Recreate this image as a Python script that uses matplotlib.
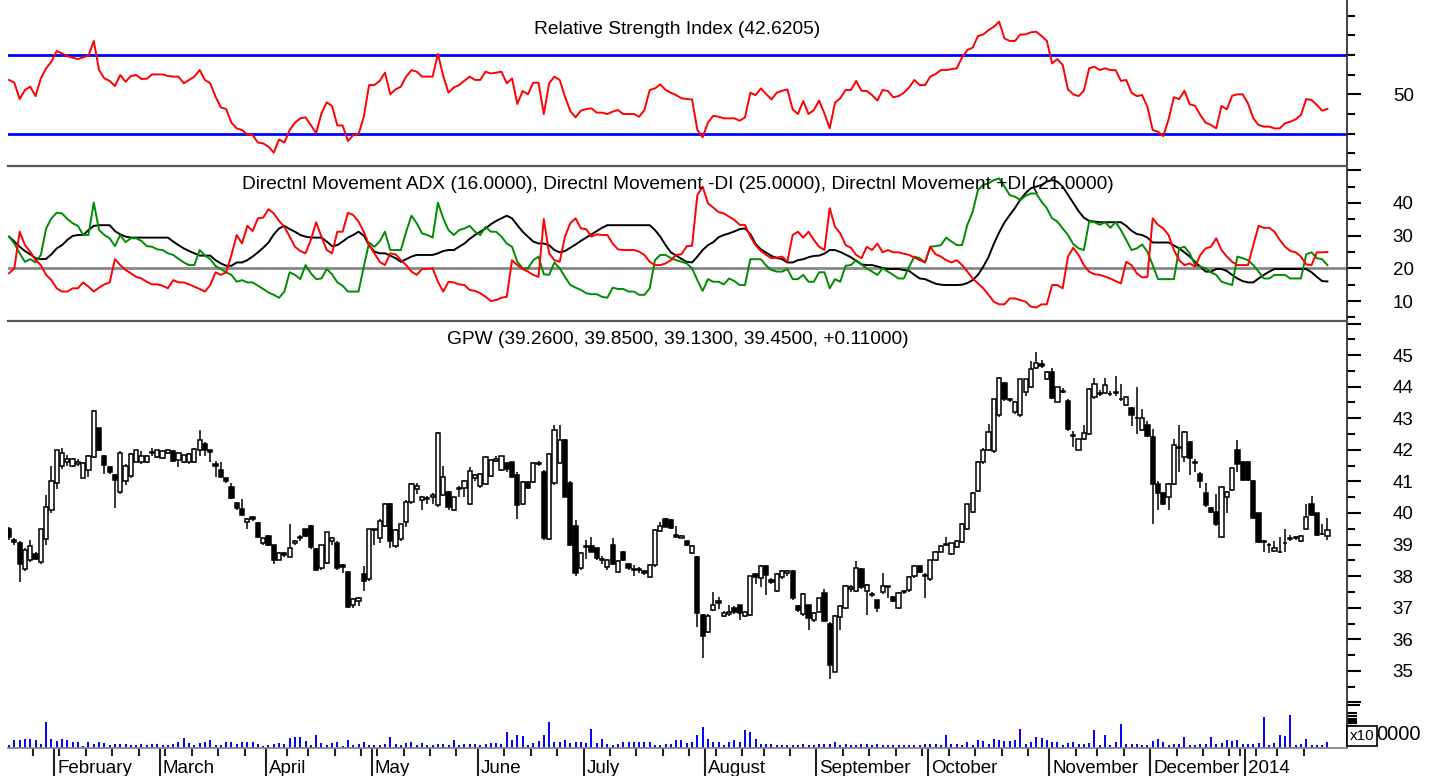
import numpy as np
import pandas as pd
import matplotlib
matplotlib.use("Agg")
import matplotlib.pyplot as plt
from matplotlib.transforms import blended_transform_factory

plt.rcParams['font.family'] = ['Liberation Sans', 'DejaVu Sans']

# ---------------- data ----------------
opens = [
    39.49, 39.15, 39.04, 38.22, 38.50, 38.70, 38.46, 39.17, 40.10, 40.96,
    41.49, 41.60, 41.50, 41.55, 41.12, 41.36, 41.78, 42.68, 41.80, 41.46,
    41.20, 40.65, 41.00, 41.17, 41.62, 41.62, 41.60, 41.90, 41.76, 41.73,
    41.90, 41.97, 41.68, 41.60, 41.60, 41.60, 42.00, 42.20, 41.99, 41.55,
    41.36, 41.10, 40.83, 40.33, 40.12, 39.70, 39.88, 39.67, 39.04, 39.28,
    38.99, 38.51, 38.72, 38.62, 39.05, 39.20, 39.48, 39.60, 38.86, 38.25,
    38.41, 39.10, 39.04, 38.35, 38.12, 37.10, 37.20, 38.07, 37.90, 39.45,
    39.20, 39.59, 40.30, 38.95, 39.17, 39.72, 40.36, 40.75, 40.40, 40.45,
    40.50, 40.25, 40.57, 40.65, 40.10, 40.75, 40.78, 40.30, 41.10, 40.85,
    40.92, 41.18, 41.65, 41.36, 41.57, 41.60, 41.20, 40.30, 40.99, 40.99,
    41.55, 41.30, 39.17, 40.94, 41.57, 42.31, 40.94, 39.59, 38.25, 38.95,
    38.95, 38.88, 38.55, 38.30, 38.99, 38.14, 38.77, 38.40, 38.22, 38.20,
    38.17, 37.98, 38.35, 39.42, 39.80, 39.77, 39.30, 39.22, 39.10, 38.74,
    38.62, 36.77, 36.24, 36.93, 37.20, 36.74, 36.80, 37.00, 37.09, 36.75,
    36.77, 38.06, 37.93, 38.32, 37.88, 37.54, 37.98, 38.10, 38.17, 37.06,
    36.80, 37.08, 36.61, 36.88, 37.46, 36.50, 34.98, 36.72, 36.98, 37.58,
    37.54, 38.22, 37.54, 37.45, 37.24, 37.51, 37.67, 37.35, 36.98, 37.50,
    37.56, 38.00, 38.32, 38.05, 37.90, 38.51, 38.77, 39.00, 38.70, 38.93,
    39.07, 39.48, 40.04, 40.71, 41.60, 41.99, 41.97, 43.10, 44.12, 43.60,
    43.20, 43.10, 43.84, 44.00, 44.60, 44.72, 44.23, 44.47, 43.52, 43.84,
    43.55, 42.47, 42.00, 42.33, 42.50, 43.68, 43.80, 43.80, 43.78, 43.80,
    43.62, 43.42, 43.34, 43.02, 42.62, 42.80, 42.41, 40.92, 40.62, 40.52,
    40.92, 42.08, 41.76, 42.26, 41.60, 41.23, 40.62, 40.15, 40.04, 39.23,
    40.52, 40.73, 41.99, 41.62, 41.62, 41.02, 39.99, 39.10, 39.00, 38.80,
    38.76, 39.05, 39.17, 39.25, 39.10, 39.48, 40.27, 39.99, 39.32, 39.26,
]
highs = [
    39.55, 39.20, 39.10, 38.90, 39.14, 38.75, 39.50, 40.57, 41.50, 42.00,
    42.05, 41.85, 41.75, 41.70, 41.62, 41.85, 43.25, 42.70, 41.85, 41.50,
    41.25, 41.95, 41.55, 41.90, 42.00, 41.95, 41.85, 42.05, 42.00, 41.98,
    42.02, 41.99, 41.92, 41.85, 41.90, 42.05, 42.63, 42.25, 42.00, 41.65,
    41.60, 41.12, 40.95, 40.35, 40.45, 39.85, 39.92, 39.72, 39.22, 39.30,
    39.00, 38.75, 38.78, 39.64, 39.15, 39.30, 39.50, 39.62, 38.90, 39.00,
    39.40, 39.25, 39.10, 38.40, 38.15, 37.30, 37.35, 38.32, 39.50, 39.50,
    39.80, 40.32, 40.32, 39.50, 39.66, 40.40, 40.95, 40.95, 40.55, 40.55,
    40.62, 42.55, 41.50, 40.70, 40.52, 40.85, 41.05, 41.45, 41.25, 41.28,
    41.80, 41.70, 41.80, 41.82, 41.60, 41.62, 41.30, 41.00, 41.00, 41.60,
    41.65, 41.35, 41.90, 42.78, 42.78, 42.35, 41.00, 39.78, 38.75, 39.15,
    39.25, 38.90, 38.65, 38.55, 39.20, 38.50, 38.80, 38.42, 38.35, 38.28,
    38.20, 38.38, 39.48, 39.72, 39.85, 39.80, 39.60, 39.30, 39.12, 39.00,
    38.65, 36.80, 36.80, 37.50, 37.35, 36.90, 37.10, 37.05, 37.10, 36.90,
    38.02, 38.10, 38.35, 38.35, 37.95, 38.10, 38.20, 38.20, 38.20, 37.10,
    37.46, 37.10, 36.85, 37.32, 37.60, 36.55, 36.78, 37.08, 37.72, 37.72,
    38.48, 38.25, 37.75, 37.50, 37.26, 38.10, 37.70, 37.38, 37.50, 37.55,
    38.00, 38.34, 38.34, 38.10, 38.52, 38.80, 38.98, 39.25, 39.06, 39.15,
    39.68, 40.30, 40.65, 41.65, 42.05, 42.82, 43.62, 44.30, 44.15, 43.65,
    43.55, 44.25, 44.25, 44.80, 45.10, 44.85, 44.50, 44.60, 44.00, 43.95,
    43.60, 42.60, 42.35, 42.80, 43.96, 44.27, 43.90, 44.27, 43.85, 44.35,
    44.10, 43.70, 43.36, 43.98, 43.30, 42.90, 42.65, 41.00, 40.65, 40.95,
    42.35, 42.78, 42.60, 42.28, 41.70, 41.30, 40.95, 40.20, 40.60, 40.84,
    40.70, 41.47, 42.30, 41.65, 41.65, 41.05, 40.00, 39.15, 39.05, 39.10,
    39.25, 39.50, 39.30, 39.27, 39.30, 40.30, 40.55, 40.00, 39.65, 39.85,
]
lows = [
    39.15, 39.00, 37.80, 38.15, 38.45, 38.50, 38.40, 39.00, 40.00, 40.75,
    41.40, 41.50, 41.45, 41.50, 41.10, 41.15, 41.75, 41.95, 41.25, 41.25,
    40.15, 40.60, 40.90, 41.10, 41.60, 41.55, 41.58, 41.80, 41.74, 41.70,
    41.88, 41.60, 41.46, 41.58, 41.55, 41.58, 41.80, 41.80, 41.60, 41.15,
    41.10, 40.95, 40.45, 40.10, 39.90, 39.50, 39.75, 39.20, 39.00, 38.95,
    38.40, 38.50, 38.60, 38.60, 39.00, 39.10, 39.25, 38.85, 38.15, 38.20,
    38.38, 39.00, 38.20, 38.10, 37.00, 37.00, 37.05, 37.54, 37.85, 39.00,
    39.05, 39.55, 38.90, 38.90, 39.10, 39.55, 40.30, 40.60, 40.10, 40.30,
    40.30, 40.20, 40.55, 40.10, 40.05, 40.50, 40.50, 40.25, 41.00, 40.80,
    40.90, 41.15, 41.60, 41.34, 41.30, 41.10, 39.80, 40.25, 40.75, 40.95,
    41.50, 39.15, 39.15, 40.90, 41.55, 40.50, 38.95, 38.00, 38.20, 38.55,
    38.75, 38.50, 38.40, 38.20, 38.35, 38.10, 38.48, 38.20, 38.00, 38.10,
    38.05, 37.95, 38.30, 39.40, 39.55, 39.50, 39.20, 39.20, 38.95, 38.70,
    36.40, 35.40, 36.20, 36.90, 36.95, 36.70, 36.75, 36.80, 36.60, 36.70,
    36.75, 37.75, 37.65, 37.40, 37.75, 37.50, 37.90, 38.00, 37.25, 36.85,
    36.75, 36.30, 36.55, 36.85, 36.55, 34.74, 34.95, 36.30, 36.95, 37.50,
    37.50, 37.60, 36.78, 37.35, 36.88, 37.45, 37.30, 37.18, 36.95, 37.45,
    37.50, 37.95, 38.10, 37.30, 37.85, 38.48, 38.75, 38.95, 38.68, 38.90,
    39.05, 39.45, 40.00, 40.68, 41.55, 41.95, 41.90, 43.05, 43.55, 43.50,
    43.15, 43.05, 43.70, 43.95, 44.55, 44.60, 44.20, 43.60, 43.50, 43.80,
    42.60, 42.10, 41.98, 42.30, 42.48, 43.60, 43.70, 43.78, 43.70, 43.70,
    43.55, 43.40, 42.75, 42.50, 42.60, 42.40, 39.65, 40.10, 40.25, 40.10,
    40.88, 41.30, 41.60, 41.20, 41.30, 40.80, 40.20, 40.00, 39.60, 39.20,
    40.00, 40.70, 41.30, 41.00, 41.00, 39.80, 39.05, 38.78, 38.72, 38.75,
    38.72, 38.78, 39.10, 39.15, 39.08, 39.45, 39.90, 39.28, 39.30, 39.13,
]
closes = [
    39.23, 39.08, 38.40, 38.83, 38.95, 38.55, 39.48, 40.20, 41.02, 41.99,
    41.89, 41.70, 41.70, 41.62, 41.59, 41.80, 43.23, 41.99, 41.52, 41.30,
    41.06, 41.90, 41.50, 41.86, 41.99, 41.80, 41.80, 41.92, 41.99, 41.97,
    42.00, 41.64, 41.90, 41.83, 41.87, 42.04, 42.30, 42.00, 41.94, 41.50,
    41.15, 41.00, 40.46, 40.15, 39.94, 39.80, 39.80, 39.23, 39.20, 38.99,
    38.51, 38.72, 38.68, 38.88, 39.12, 39.25, 39.27, 38.91, 38.20, 38.98,
    39.39, 39.20, 38.25, 38.30, 37.03, 37.27, 37.30, 37.86, 39.49, 39.48,
    39.76, 40.30, 39.12, 39.46, 39.64, 40.36, 40.92, 40.85, 40.50, 40.48,
    40.58, 42.52, 41.13, 40.20, 40.50, 40.80, 41.02, 41.33, 41.20, 41.25,
    41.78, 41.68, 41.72, 41.80, 41.38, 41.15, 40.25, 40.99, 40.78, 41.59,
    41.58, 39.20, 41.87, 42.63, 42.31, 40.52, 38.99, 38.09, 38.72, 38.92,
    38.77, 38.56, 38.52, 38.51, 38.40, 38.48, 38.51, 38.25, 38.20, 38.22,
    38.09, 38.35, 39.46, 39.60, 39.57, 39.52, 39.25, 39.27, 39.00, 38.95,
    36.82, 36.10, 36.74, 37.09, 37.15, 36.84, 36.88, 36.85, 36.82, 36.85,
    38.00, 37.96, 38.32, 38.04, 37.83, 38.07, 38.17, 38.15, 37.30, 36.93,
    37.44, 36.67, 36.82, 37.30, 36.59, 35.19, 36.74, 37.06, 37.69, 37.66,
    38.27, 37.67, 37.71, 37.40, 36.98, 37.69, 37.68, 37.22, 37.48, 37.52,
    37.98, 38.32, 38.12, 38.00, 38.50, 38.77, 38.95, 39.02, 39.04, 39.12,
    39.65, 40.28, 40.62, 41.62, 42.01, 42.57, 43.60, 44.26, 43.60, 43.58,
    43.52, 44.23, 44.23, 44.55, 44.75, 44.65, 44.47, 43.63, 43.99, 43.86,
    42.65, 42.45, 42.33, 42.52, 43.94, 44.10, 43.78, 44.05, 43.76, 43.82,
    43.60, 43.68, 43.10, 43.00, 43.02, 42.43, 40.92, 40.62, 40.28, 40.92,
    42.15, 42.05, 42.57, 41.73, 41.57, 41.02, 40.25, 40.04, 39.65, 40.81,
    40.65, 41.44, 41.55, 41.06, 41.04, 39.83, 39.09, 39.07, 38.99, 38.90,
    38.75, 39.04, 39.20, 39.20, 39.27, 39.88, 39.94, 39.30, 39.34, 39.45,
]
# volume, thousands of shares
volume = [
    200, 590, 590, 690, 690, 590, 330, 1970, 690, 510,
    690, 640, 460, 460, 180, 430, 330, 460, 380, 260,
    330, 330, 330, 200, 260, 330, 260, 330, 330, 260,
    200, 330, 460, 770, 380, 260, 380, 460, 590, 260,
    200, 460, 430, 330, 460, 460, 460, 330, 180, 260,
    330, 380, 330, 770, 850, 850, 510, 260, 1020, 380,
    200, 380, 460, 130, 640, 200, 330, 460, 260, 260,
    260, 330, 850, 330, 260, 380, 460, 260, 380, 260,
    260, 310, 330, 260, 640, 260, 330, 330, 330, 200,
    330, 380, 380, 330, 1230, 640, 970, 900, 260, 380,
    510, 1020, 1970, 460, 460, 590, 380, 460, 460, 380,
    1460, 380, 720, 330, 260, 330, 430, 460, 460, 460,
    460, 430, 200, 260, 330, 330, 590, 590, 380, 460,
    970, 1610, 720, 460, 435, 260, 435, 590, 460, 1360,
    1230, 720, 330, 330, 330, 200, 260, 200, 260, 260,
    330, 260, 260, 330, 330, 330, 460, 260, 330, 260,
    260, 330, 330, 200, 330, 200, 260, 260, 260, 260,
    200, 200, 260, 330, 330, 330, 260, 970, 330, 330,
    260, 460, 200, 640, 510, 330, 720, 640, 510, 510,
    590, 1460, 330, 460, 850, 770, 590, 460, 460, 200,
    380, 460, 330, 330, 380, 1360, 200, 970, 200, 460,
    1840, 330, 330, 330, 200, 200, 510, 720, 460, 200,
    330, 330, 850, 260, 200, 330, 330, 850, 330, 380,
    640, 510, 640, 330, 330, 330, 380, 2360, 200, 380,
    970, 900, 2560, 200, 330, 720, 260, 260, 260, 460,
]
rsi = [
    57.3, 55.9, 47.6, 52.2, 53.9, 49.1, 58.1, 63.2, 66.6, 72.0,
    70.8, 69.4, 68.6, 67.9, 68.8, 69.6, 77.1, 62.3, 58.1, 56.8,
    54.2, 59.8, 56.4, 59.3, 59.8, 57.8, 57.9, 60.1, 60.1, 60.1,
    59.3, 59.0, 59.0, 55.6, 57.3, 59.0, 62.3, 57.3, 55.6, 48.8,
    43.4, 42.5, 35.6, 32.7, 31.9, 29.5, 29.3, 25.5, 25.1, 23.4,
    20.4, 27.1, 25.5, 31.9, 35.6, 37.8, 38.3, 34.4, 30.2, 40.3,
    45.9, 44.1, 34.2, 34.2, 26.3, 29.3, 29.7, 38.6, 54.7, 54.7,
    56.8, 61.0, 50.0, 52.5, 53.9, 59.0, 62.3, 61.5, 59.0, 59.0,
    59.0, 70.5, 59.3, 50.8, 53.5, 54.7, 56.9, 59.0, 57.3, 57.3,
    61.5, 60.6, 61.0, 61.5, 55.6, 58.1, 45.1, 51.7, 50.0, 55.9,
    55.9, 40.0, 55.6, 59.0, 57.3, 48.8, 41.5, 38.3, 41.7, 42.5,
    42.9, 40.7, 40.7, 40.0, 41.2, 42.0, 40.0, 40.0, 40.0, 38.6,
    42.0, 52.2, 53.0, 55.1, 52.2, 50.8, 49.6, 48.0, 47.6, 47.4,
    31.9, 28.2, 35.6, 39.1, 38.6, 37.8, 37.8, 37.8, 36.6, 38.3,
    50.8, 49.6, 53.0, 50.1, 47.4, 50.8, 51.8, 52.5, 42.4, 40.0,
    46.6, 40.0, 42.0, 46.8, 40.3, 32.7, 45.8, 48.0, 52.2, 52.2,
    56.8, 51.8, 51.7, 49.6, 46.8, 52.2, 51.7, 48.5, 49.1, 50.8,
    53.5, 57.3, 54.7, 54.7, 59.0, 60.3, 62.3, 62.3, 62.8, 63.2,
    68.8, 72.5, 73.7, 79.6, 80.4, 82.6, 84.3, 86.9, 78.4, 77.1,
    77.1, 80.4, 80.4, 81.5, 81.8, 79.6, 77.2, 65.7, 67.9, 64.9,
    52.5, 50.0, 49.1, 51.8, 63.2, 64.0, 62.3, 63.2, 62.3, 62.3,
    56.8, 57.3, 50.8, 49.1, 49.6, 43.7, 31.9, 31.0, 28.8, 37.3,
    48.5, 47.6, 51.8, 44.9, 44.2, 39.5, 35.6, 34.4, 32.7, 44.1,
    42.4, 49.3, 50.0, 50.0, 45.4, 37.8, 34.4, 33.6, 33.6, 32.7,
    32.7, 35.3, 36.1, 37.3, 39.5, 47.6, 47.1, 44.6, 41.7, 42.6,
]
minus_di = [
    18.5, 20.0, 31.2, 27.1, 25.1, 22.5, 21.0, 18.0, 16.4, 13.9,
    12.9, 12.9, 13.9, 13.9, 15.7, 14.4, 12.9, 14.1, 15.1, 15.7,
    22.8, 21.0, 19.5, 18.5, 17.4, 16.9, 15.9, 15.1, 15.1, 14.7,
    13.9, 16.4, 15.7, 15.7, 15.1, 14.4, 13.7, 12.9, 14.9, 18.8,
    18.0, 18.8, 24.1, 30.2, 27.6, 33.0, 31.4, 35.3, 35.5, 38.1,
    36.8, 34.5, 32.7, 29.7, 26.6, 25.3, 24.6, 28.7, 34.1, 29.7,
    25.6, 24.6, 31.2, 31.2, 37.0, 36.3, 34.3, 31.2, 27.1, 24.6,
    22.0, 21.0, 24.6, 24.3, 22.5, 21.0, 19.0, 18.0, 19.8, 19.8,
    20.0, 15.9, 12.9, 15.9, 15.7, 15.1, 14.9, 13.4, 13.1, 12.4,
    11.3, 10.0, 10.3, 11.0, 11.3, 22.5, 21.0, 19.8, 19.0, 18.0,
    17.4, 35.1, 24.6, 22.5, 22.0, 29.7, 33.8, 35.3, 32.2, 32.0,
    29.7, 30.4, 30.2, 30.2, 27.6, 25.8, 25.6, 25.6, 25.6, 25.1,
    24.1, 22.0, 21.0, 21.0, 21.5, 22.5, 24.1, 24.3, 26.8, 26.9,
    42.4, 45.0, 39.9, 38.6, 37.2, 36.8, 35.8, 34.8, 33.3, 33.3,
    29.7, 27.1, 25.3, 24.1, 23.1, 23.3, 23.6, 22.0, 30.2, 31.2,
    29.4, 31.2, 28.7, 26.6, 25.6, 38.4, 32.7, 30.7, 27.1, 26.3,
    24.1, 23.1, 26.6, 25.6, 27.6, 24.9, 25.6, 24.9, 24.9, 24.5,
    24.1, 23.3, 22.5, 21.8, 26.6, 24.3, 23.6, 22.5, 21.8, 22.5,
    21.0, 19.0, 16.9, 15.4, 13.9, 11.9, 9.8, 9.0, 9.0, 10.8,
    10.8, 10.3, 9.8, 8.3, 8.0, 9.0, 9.0, 14.9, 14.9, 13.9,
    23.6, 26.3, 24.1, 21.0, 19.0, 18.2, 18.0, 17.5, 16.9, 16.1,
    15.4, 22.0, 21.0, 18.5, 17.2, 17.4, 35.3, 33.3, 32.2, 30.2,
    25.6, 22.5, 21.0, 21.5, 20.5, 24.1, 26.1, 26.6, 29.2, 25.6,
    23.6, 22.0, 21.0, 21.0, 21.0, 27.1, 33.0, 32.4, 32.4, 31.2,
    28.7, 26.6, 25.3, 24.9, 23.6, 21.2, 21.0, 24.9, 24.9, 25.0,
]
plus_di = [
    29.7, 27.6, 24.6, 22.0, 22.8, 21.8, 24.1, 32.2, 35.3, 37.0,
    36.8, 35.1, 33.8, 33.0, 30.2, 30.2, 40.1, 31.7, 30.2, 29.2,
    26.8, 30.2, 28.0, 29.2, 29.2, 28.4, 26.8, 26.6, 25.8, 25.6,
    24.6, 24.1, 22.9, 21.8, 21.0, 21.0, 25.6, 23.9, 22.8, 20.7,
    19.8, 18.8, 18.0, 15.9, 16.4, 15.7, 15.7, 14.7, 13.7, 12.6,
    11.9, 11.0, 12.9, 18.8, 18.0, 16.7, 21.0, 18.5, 16.7, 16.9,
    19.8, 18.2, 15.7, 14.7, 12.9, 12.9, 12.9, 20.5, 27.9, 26.6,
    28.2, 31.2, 25.6, 25.6, 25.6, 31.2, 36.1, 33.8, 30.7, 30.2,
    29.4, 40.1, 35.3, 31.7, 30.2, 31.7, 32.2, 33.0, 31.2, 30.2,
    32.7, 31.2, 31.2, 29.7, 27.6, 26.6, 22.0, 20.0, 20.0, 22.5,
    23.6, 18.2, 18.0, 21.8, 20.0, 17.4, 14.9, 14.1, 13.4, 12.4,
    12.1, 12.1, 11.3, 11.0, 14.1, 13.7, 13.7, 12.9, 12.9, 11.9,
    11.9, 13.9, 22.5, 24.1, 24.1, 23.1, 22.5, 22.0, 21.5, 20.0,
    16.4, 13.1, 16.7, 15.9, 15.9, 15.1, 16.9, 16.1, 14.9, 14.9,
    22.8, 22.8, 22.8, 20.8, 19.5, 19.0, 19.0, 19.8, 16.7, 16.7,
    18.0, 15.9, 15.9, 18.8, 18.8, 13.9, 16.7, 15.9, 20.8, 21.0,
    22.5, 21.2, 20.0, 19.0, 18.0, 20.0, 19.0, 18.0, 16.9, 16.9,
    20.5, 23.6, 23.1, 21.8, 26.6, 26.8, 27.1, 29.4, 28.2, 27.1,
    27.1, 33.3, 37.3, 44.0, 45.5, 46.0, 47.0, 47.5, 45.0, 42.4,
    41.9, 40.9, 42.2, 42.9, 42.9, 40.4, 38.4, 35.3, 34.3, 32.2,
    30.2, 27.4, 26.1, 25.6, 34.3, 34.1, 33.3, 34.1, 32.4, 34.1,
    31.7, 28.7, 25.6, 26.1, 27.3, 25.1, 21.0, 16.7, 16.7, 16.7,
    16.7, 26.1, 26.6, 24.6, 21.0, 20.5, 20.0, 18.8, 18.0, 15.9,
    15.4, 14.9, 23.6, 23.1, 22.5, 21.0, 19.0, 16.9, 16.9, 18.0,
    18.0, 18.0, 16.9, 16.9, 16.9, 24.3, 24.9, 23.1, 22.8, 21.0,
]
adx = [
    29.7, 28.2, 26.6, 25.3, 24.3, 23.1, 22.8, 22.9, 24.3, 26.1,
    27.1, 28.7, 29.9, 30.2, 30.2, 31.7, 33.0, 33.2, 33.2, 33.2,
    31.4, 30.4, 29.7, 29.4, 29.4, 29.4, 29.4, 29.4, 29.4, 29.4,
    29.4, 28.2, 27.1, 26.1, 25.3, 24.6, 23.9, 23.9, 23.9, 22.5,
    21.5, 20.8, 20.8, 21.8, 21.8, 22.5, 23.6, 24.9, 26.3, 27.9,
    30.4, 32.2, 33.0, 32.0, 31.2, 30.2, 29.7, 29.4, 29.4, 29.4,
    28.2, 26.8, 27.1, 28.2, 29.4, 30.2, 31.2, 30.0, 27.1, 25.1,
    24.6, 24.6, 23.9, 23.1, 22.0, 22.8, 23.6, 24.1, 24.1, 24.1,
    24.1, 24.6, 25.3, 25.6, 25.6, 26.6, 27.6, 29.0, 30.2, 31.2,
    32.2, 33.5, 34.5, 35.3, 36.1, 35.3, 33.2, 31.2, 29.7, 28.2,
    27.6, 27.6, 27.1, 25.6, 24.9, 25.3, 26.3, 27.3, 28.4, 29.4,
    30.4, 31.4, 32.4, 33.2, 33.2, 33.2, 33.2, 33.2, 33.2, 33.2,
    33.2, 33.2, 31.7, 29.7, 27.1, 24.9, 23.9, 22.9, 22.0, 21.8,
    23.6, 25.6, 27.1, 28.0, 29.5, 30.2, 30.7, 31.3, 32.0, 32.2,
    30.5, 27.5, 25.8, 24.8, 23.8, 23.2, 22.8, 21.8, 21.8, 22.5,
    22.8, 23.4, 23.8, 23.9, 24.5, 25.6, 25.6, 25.0, 24.2, 23.4,
    22.3, 21.2, 21.0, 21.0, 20.6, 20.1, 19.8, 19.8, 19.8, 19.5,
    19.2, 18.0, 16.9, 16.7, 16.0, 15.3, 15.0, 14.9, 14.9, 14.9,
    15.0, 15.5, 16.4, 18.0, 20.5, 23.5, 27.5, 31.0, 34.0, 36.3,
    38.5, 41.0, 43.0, 44.5, 45.0, 45.5, 46.5, 47.0, 46.5, 45.0,
    42.5, 40.0, 37.5, 35.5, 34.5, 34.3, 34.1, 34.1, 34.1, 34.1,
    34.1, 33.0, 31.5, 30.5, 30.2, 29.4, 27.9, 27.9, 27.9, 27.9,
    27.0, 26.1, 24.9, 23.6, 22.0, 20.5, 19.0, 19.0, 19.8, 19.8,
    19.2, 18.0, 16.9, 16.1, 15.7, 15.7, 16.9, 18.0, 19.0, 19.8,
    19.8, 19.8, 19.8, 19.8, 19.8, 19.8, 18.8, 17.4, 16.1, 16.0,
]

month_names = ['February', 'March', 'April', 'May', 'June', 'July', 'August',
               'September', 'October', 'November', 'December', '2014']

# Warsaw exchange closed days, plus one April session missing from the feed
closed_days = ['2013-03-29', '2013-04-01', '2013-04-10', '2013-05-01', '2013-05-03',
               '2013-05-30', '2013-08-15', '2013-11-01', '2013-11-11', '2013-12-24',
               '2013-12-25', '2013-12-26', '2013-12-31', '2014-01-01', '2014-01-06']

# ---------------- layout ----------------
W, H = 1434, 776
LEFT, RIGHT = 8, 1347
SPINE = '#333333'


def px_rect(y0, y1):
    return [LEFT / W, 1 - y1 / H, (RIGHT - LEFT) / W, (y1 - y0) / H]


fig = plt.figure(figsize=(W / 100, H / 100), dpi=100)
ax_rsi = fig.add_axes(px_rect(0, 166))
ax_dmi = fig.add_axes(px_rect(166, 321))
ax_px = fig.add_axes(px_rect(321, 705))
ax_vol = fig.add_axes(px_rect(705, 748))

n = len(closes)
x = np.arange(n)
xlim = (-0.2, 252.7)

for ax in (ax_rsi, ax_dmi, ax_px, ax_vol):
    ax.set_xlim(*xlim)
    ax.set_facecolor('none')
    for s in ('left', 'top', 'bottom'):
        ax.spines[s].set_visible(False)
    ax.spines['right'].set_color(SPINE)
    ax.spines['right'].set_linewidth(1.3)
    ax.yaxis.tick_right()
    ax.tick_params(axis='y', which='major', direction='out', length=10, width=1.5,
                   color='black', labelsize=13.5, pad=23)
    ax.tick_params(axis='y', which='minor', direction='out', length=6, width=1.5,
                   color='black')
    ax.tick_params(axis='x', which='both', bottom=False, labelbottom=False)

for ax in (ax_dmi, ax_px):
    ax.spines['top'].set_visible(True)
    ax.spines['top'].set_color('#555555')
    ax.spines['top'].set_linewidth(1.6)

TITLE_FS = 13.8

# ---- RSI ----
ax_rsi.set_ylim(13.6, 97.9)
ax_rsi.axhline(70, color='#0000ff', lw=2.0)
ax_rsi.axhline(30, color='#0000ff', lw=2.0)
ax_rsi.plot(x, rsi, color='#ff0000', lw=1.4)
ax_rsi.set_yticks([50])
ax_rsi.set_yticklabels(['50'])
ax_rsi.set_yticks([20, 30, 40, 60, 70, 80, 90], minor=True)
ax_rsi.text(0.5, 1 - 30 / 166, 'Relative Strength Index (42.6205)', transform=ax_rsi.transAxes,
            ha='center', va='center', fontsize=TITLE_FS)

# ---- DMI ----
ax_dmi.set_ylim(3.9, 51.3)
ax_dmi.axhline(20, color='#888888', lw=2.0)
ax_dmi.plot(x, adx, color='black', lw=1.4)
ax_dmi.plot(x, plus_di, color='#008c00', lw=1.4)
ax_dmi.plot(x, minus_di, color='#ff0000', lw=1.4)
ax_dmi.set_yticks([10, 20, 30, 40, 50])
ax_dmi.set_yticklabels(['10', '20', '30', '40', ''])
ax_dmi.set_yticks([5, 15, 25, 35, 45], minor=True)
ax_dmi.text(0.5, 1 - 19 / 155,
            'Directnl Movement ADX (16.0000), Directnl Movement -DI (25.0000), '
            'Directnl Movement +DI (21.0000)',
            transform=ax_dmi.transAxes, ha='center', va='center', fontsize=TITLE_FS)

# ---- candles ----
o = np.array(opens)
h = np.array(highs)
l = np.array(lows)
c = np.array(closes)
up = c >= o
ax_px.set_ylim(33.92, 46.08)
ax_px.vlines(x, l, h, color='black', lw=1.1, zorder=2)
body_lo = np.minimum(o, c)
body_h = np.abs(c - o)
ax_px.bar(x, body_h, bottom=body_lo, width=0.8,
          color=np.where(up, 'white', 'black'), edgecolor='black', linewidth=1.1, zorder=3)
ax_px.set_yticks(np.arange(34, 47))
ax_px.set_yticklabels([''] + [str(v) for v in range(35, 46)] + [''])
ax_px.set_yticks(np.arange(34.5, 46, 1.0), minor=True)
ax_px.text(0.5, 1 - 19 / 384, 'GPW (39.2600, 39.8500, 39.1300, 39.4500, +0.11000)',
           transform=ax_px.transAxes, ha='center', va='center', fontsize=TITLE_FS)

# ---- volume ----
ax_vol.set_ylim(0, 3310)
ax_vol.vlines(x, 0, volume, color='#0000ff', lw=1.4)
ax_vol.spines['bottom'].set_visible(True)
ax_vol.spines['bottom'].set_color('#888888')
ax_vol.spines['bottom'].set_linewidth(1.3)
ax_vol.set_yticks([3300], labels=[''])
ax_vol.set_yticks([2690, 2460, 2250, 2080, 1900, 1730, 1580, 1440, 1300], minor=True)
ax_vol.tick_params(axis='y', which='major', length=9)
ax_vol.tick_params(axis='y', which='minor', length=7)
fig.text(1350 / W, 1 - 736 / H, 'x10', fontsize=11, va='center', ha='left',
         bbox=dict(boxstyle='square,pad=0.18', fc='white', ec='black', lw=1.2))
fig.text(1376 / W, 1 - 735 / H, '0000', fontsize=14.5, va='center', ha='left')

# ---- date axis (trading-day index) ----
dates = pd.bdate_range('2013-01-21', periods=n, freq='C', holidays=closed_days)
months = dates.to_period('M')
weeks = dates.to_period('W')
month_pos = [i - 0.5 for i in range(1, n) if months[i] != months[i - 1]]
week_pos = [i - 0.5 for i in range(1, n) if weeks[i] != weeks[i - 1]]

ax_vol.tick_params(axis='x', which='major', bottom=True, direction='out', length=20,
                   width=1.5, color='#222222')
ax_vol.tick_params(axis='x', which='minor', bottom=True, direction='out', length=5.5,
                   width=1.5, color='#222222')
ax_vol.set_xticks(month_pos)
ax_vol.set_xticklabels([])
ax_vol.set_xticks(week_pos, minor=True)

trans = blended_transform_factory(ax_vol.transData, ax_vol.transAxes)
for pos, name in zip(month_pos, month_names):
    ax_vol.annotate(name, xy=(pos, 0), xycoords=trans, xytext=(3, -25),
                    textcoords='offset pixels', ha='left', va='baseline',
                    fontsize=13.5, annotation_clip=False)

fig.savefig('out.png', dpi=100)
